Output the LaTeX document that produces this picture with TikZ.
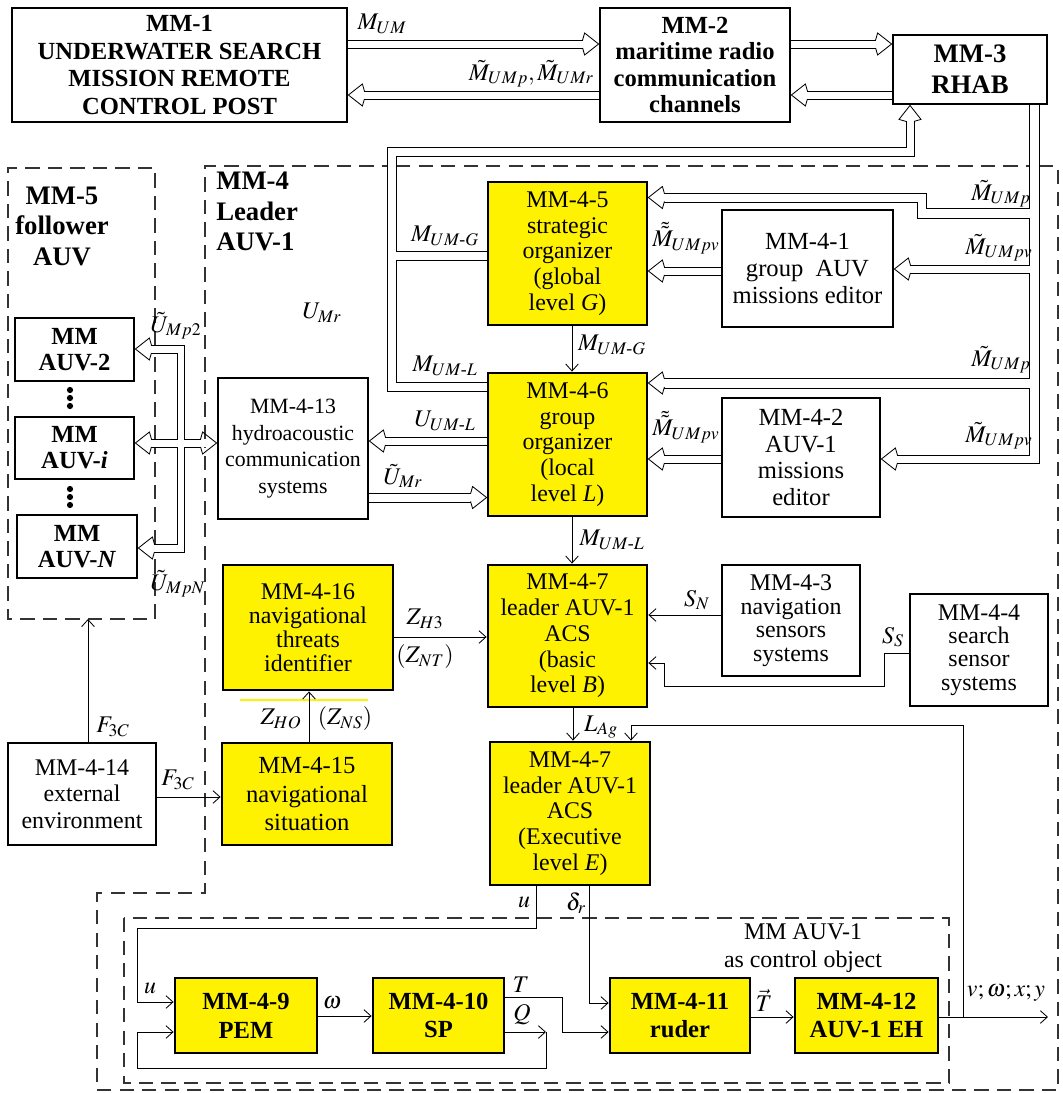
\documentclass[tikz,border=0pt]{standalone}
\usepackage{amsmath}
\usepackage{mathptmx}
\usepackage{fontspec}
\setmainfont{Liberation Serif}
\usetikzlibrary{arrows.meta,backgrounds}
\definecolor{boxyellow}{RGB}{255,242,0}

\tikzset{
  blk/.style={draw, line width=2pt, inner sep=0pt, align=center,
    font=\fontsize{17}{18.3}\selectfont},
  sz/.style 2 args={minimum width=#1*0.025cm, minimum height=#2*0.025cm},
  wbox/.style={blk, fill=white},
  ybox/.style={blk, fill=boxyellow},
  bbox/.style={wbox, font=\fontsize{17.5}{18.6}\selectfont\bfseries},
  bybox/.style={ybox, font=\fontsize{17.5}{20.5}\selectfont\bfseries},
  grp/.style={inner sep=0pt, font=\fontsize{19}{21.7}\selectfont\bfseries},
  lab/.style={inner sep=0pt, font=\fontsize{17}{17}\selectfont},
  ln/.style={line width=0.6pt},
  sarr/.style={line width=0.6pt, -{Straight Barb[length=5pt,width=9pt]}},
  frm/.style={line width=0.8pt, black!80, dash pattern=on 10pt off 6pt},
  dhead/.pic={\draw[ln] (-16,4) -- (-14,11) -- (0,0) -- (-14,-11) -- (-16,-4);},
}

\begin{document}
\begin{tikzpicture}[x=0.025cm, y=-0.025cm]
\useasboundingbox (0,0) rectangle (1063,1093);

% top row
\node[bbox, sz={335}{114}, font=\fontsize{17.5}{19.5}\selectfont\bfseries] (mm1) at (179.5,65) {MM-1\\UNDERWATER SEARCH\\MISSION REMOTE\\CONTROL POST};
\node[bbox, sz={190}{114}] (mm2) at (695,65) {MM-2\\maritime radio\\communication\\channels};
\node[bbox, sz={154}{69}, font=\fontsize{19}{22}\selectfont\bfseries] (mm3) at (970,69.5) {MM-3\\RHAB};

% leader AUV-1
\node[ybox, sz={159}{143}] (mm45) at (567.5,253.5) {MM-4-5\\strategic\\organizer\\(global\\level \textit{G})};
\node[wbox, sz={171}{117}, font=\fontsize{17.5}{19}\selectfont] (mm41) at (807.5,268.5) {MM-4-1\\group\ \ AUV\\missions editor};
\node[ybox, sz={159}{143}] (mm46) at (567.5,444.5) {MM-4-6\\group\\organizer\\(local\\level \textit{L})};
\node[wbox, sz={158}{119}, font=\fontsize{17.5}{19}\selectfont] (mm42) at (801,457.5) {MM-4-2\\AUV-1\\missions\\editor};
\node[wbox, sz={150}{141}, font=\fontsize{15.5}{19}\selectfont] (mm413) at (293,448.5) {MM-4-13\\hydroacoustic\\communication\\systems};
\node[ybox, sz={159}{142}] (mm47b) at (567.5,636) {MM-4-7\\leader AUV-1\\ACS\\(basic\\level \textit{B})};
\node[wbox, sz={138}{111}, font=\fontsize{17}{16.8}\selectfont] (mm43) at (791,620.5) {MM-4-3\\navigation\\sensors\\systems};
\node[wbox, sz={138}{112}, font=\fontsize{17}{16.6}\selectfont] (mm44) at (979,650) {MM-4-4\\search\\sensor\\systems};
\node[ybox, sz={170}{125}, font=\fontsize{17}{17.2}\selectfont] (mm416) at (308,627.5) {MM-4-16\\navigational\\threats\\identifier};
\node[ybox, sz={170}{102}, font=\fontsize{17.5}{20.6}\selectfont] (mm415) at (307,794) {MM-4-15\\navigational\\situation};
\node[wbox, sz={148}{102}, font=\fontsize{17}{19}\selectfont] (mm414) at (82,794) {MM-4-14\\external\\environment};
\node[ybox, sz={160}{143}] (mm47e) at (570,813.5) {MM-4-7\\leader AUV-1\\ACS\\(Executive\\level \textit{E})};

% control object
\node[bybox, sz={142}{75}] (mm49) at (246,1015.5) {MM-4-9\\PEM};
\node[bybox, sz={131}{75}] (mm410) at (438.5,1015.5) {MM-4-10\\SP};
\node[bybox, sz={140}{75}] (mm411) at (680,1015.5) {MM-4-11\\ruder};
\node[bybox, sz={143}{75}] (mm412) at (866.5,1015.5) {MM-4-12\\AUV-1 EH};

% followers
\node[bbox, sz={119}{63}] (auv2) at (74.5,349.5) {MM\\AUV-2};
\node[bbox, sz={119}{62}] (auvi) at (74.5,448) {MM\\AUV-\textit{i}};
\node[bbox, sz={120}{63}] (auvn) at (77,546.5) {MM\\AUV-\textit{N}};

% group titles
\node[grp, align=center] (g5) at (62,226) {MM-5\\follower\\AUV};
\node[grp, align=left, anchor=north west] (g4) at (216,172) {MM-4\\Leader\\AUV-1};
\node[blk, draw=none, font=\fontsize{17}{20}\selectfont] (gco) at (803,948) {MM AUV-1\\as control object};

% labels
\node[lab] (tmum) at (382,24) {$M_{UM}$};
\node[lab, anchor=east] (tmret) at (594,74) {$\tilde M_{UMp}, \tilde M_{UMr}$};
\node[lab] (tmg1) at (445,236) {$M_{UM\text{-}G}$};
\node[lab] (tml1) at (445,366) {$M_{UM\text{-}L}$};
\node[lab] (tuul) at (445,421) {$U_{UM\text{-}L}$};
\node[lab] (tumr) at (322,313) {$U_{Mr}$};
\node[lab] (tumr2) at (403,476) {$\tilde U_{Mr}$};
\node[lab] (tup2) at (176,326) {$\tilde U_{Mp2}$};
\node[lab] (tupn) at (178,584) {$\tilde U_{MpN}$};
\node[lab] (tmp1) at (1001,194) {$\tilde M_{UMp}$};
\node[lab] (tmpv1) at (999,248) {$\tilde M_{UMpv}$};
\node[lab] (tmp2) at (1001,360) {$\tilde M_{UMp}$};
\node[lab] (tmpv2) at (999,436) {$\tilde M_{UMpv}$};
\node[lab] (tmm1) at (686,238) {$\tilde{\tilde M}_{UMpv}$};
\node[lab] (tmm2) at (686,427) {$\tilde{\tilde M}_{UMpv}$};
\node[lab] (tmg2) at (612,345) {$M_{UM\text{-}G}$};
\node[lab] (tml2) at (612,540) {$M_{UM\text{-}L}$};
\node[lab] (tsn) at (697,600) {$S_N$};
\node[lab] (tss) at (893,637) {$S_S$};
\node[lab] (tzh3) at (425,619) {$Z_{H3}$};
\node[lab] (tznt) at (425,657) {$(Z_{NT})$};
\node[lab] (tzho) at (281,719) {$Z_{HO}$};
\node[lab] (tzns) at (345,719) {$(Z_{NS})$};
\node[lab] (tf1) at (113,727) {$F_{3C}$};
\node[lab] (tf2) at (178,780) {$F_{3C}$};
\node[lab] (tlag) at (601,727) {$L_{Ag}$};
\node[lab] (tu1) at (524,902) {$u$};
\node[lab] (tdr) at (576,903) {$\delta_r$};
\node[lab] (tu2) at (150,988) {$u$};
\node[lab] (tom) at (332,1003) {$\omega$};
\node[lab] (tt) at (521,985) {$T$};
\node[lab] (tq) at (522,1015) {$Q$};
\node[lab] (ttv) at (764,1000) {$\vec T$};
\node[lab] (tout) at (1006,993) {$v;\omega;x;y$};

\coordinate (m5b) at (88,619);
\coordinate (vout) at (1048,1017);
\coordinate (fb) at (963,1017);

\begin{scope}[on background layer]
  % frames
  \draw[frm] (155,345) -- (155,168) -- (8,168) -- (8,619) -- (155,619) -- (155,552)
             (155,544) -- (155,447) (155,439) -- (155,353);
  \draw[frm] (205,439) -- (205,166) -- (387,166) (396,166) -- (1029,166)
             (1039,166) -- (1058,166) -- (1058,1090) -- (97,1090) -- (97,893) -- (205,893) -- (205,447);
  \draw[frm] (124,918) rectangle (949,1083);
  \draw[boxyellow, line width=1pt] (240,700) -- (368,700);
\end{scope}

% radio channels
\draw[ln] (mm1.east |- 0,40) -- (583,40) (mm1.east |- 0,48) -- (583,48);
\pic at (mm2.west |- 0,44) {dhead};
\draw[ln] (mm2.west |- 0,91) -- (364,91) (mm2.west |- 0,99) -- (364,99);
\pic[rotate=180] at (mm1.east |- 0,95) {dhead};
\draw[ln] (mm2.east |- 0,40) -- (876,40) (mm2.east |- 0,48) -- (876,48);
\pic at (mm3.west |- 0,44) {dhead};
\draw[ln] (mm3.west |- 0,91) -- (807,91) (mm3.west |- 0,99) -- (807,99);
\pic[rotate=180] at (mm2.east |- 0,95) {dhead};

% organizers up to RHAB
\draw[ln] (mm46.west |- 0,391) -- (387,391) -- (387,147) -- (906,147) -- (906,121);
\draw[ln] (mm46.west |- 0,382) -- (396,382) -- (396,260) -- (mm45.west |- 0,260);
\draw[ln] (mm45.west |- 0,251) -- (396,251) -- (396,156) -- (914,156) -- (914,121);
\pic[rotate=90] at (mm3.south -| 910,0) {dhead};

% RHAB down to the editors
\draw[ln] (mm3.south -| 1039,0) -- (1039,463) -- (897,463);
\draw[ln] (mm3.south -| 1029,0) -- (1029,208) -- (926,208) -- (926,193) -- (664,193);
\draw[ln] (664,202) -- (917,202) -- (917,218) -- (1029,218) -- (1029,265) -- (910,265);
\draw[ln] (910,273) -- (1029,273) -- (1029,378) -- (664,378);
\draw[ln] (664,388) -- (1029,388) -- (1029,455) -- (897,455);
\pic[rotate=180] at (mm45.east |- 0,197.5) {dhead};
\pic[rotate=180] at (mm41.east |- 0,269) {dhead};
\pic[rotate=180] at (mm46.east |- 0,383) {dhead};
\pic[rotate=180] at (mm42.east |- 0,459) {dhead};

% editors and hydroacoustic link
\draw[ln] (mm41.west |- 0,267) -- (664,267) (mm41.west |- 0,275) -- (664,275);
\pic[rotate=180] at (mm45.east |- 0,271) {dhead};
\draw[ln] (mm42.west |- 0,455) -- (664,455) (mm42.west |- 0,463) -- (664,463);
\pic[rotate=180] at (mm46.east |- 0,459) {dhead};
\draw[ln] (mm46.west |- 0,437) -- (385,437) (mm46.west |- 0,445) -- (385,445);
\pic[rotate=180] at (mm413.east |- 0,441) {dhead};
\draw[ln] (mm413.east |- 0,493) -- (471,493) (mm413.east |- 0,502) -- (471,502);
\pic at (mm46.west |- 0,497.5) {dhead};

% hydroacoustic links to followers
\draw[ln] (151,345) -- (184,345) -- (184,439) -- (201,439);
\draw[ln] (151,353) -- (177,353) -- (177,439) -- (151,439);
\draw[ln] (151,447) -- (177,447) -- (177,544) -- (154,544);
\draw[ln] (201,447) -- (184,447) -- (184,552) -- (154,552);
\pic[rotate=180] at (auv2.east |- 0,349) {dhead};
\pic[rotate=180] at (auvi.east |- 0,443) {dhead};
\pic[rotate=180] at (auvn.east |- 0,548) {dhead};
\pic at (mm413.west |- 0,443) {dhead};

% signals
\draw[sarr] (mm45.south -| 572,0) -- (mm46.north -| 572,0);
\draw[sarr] (mm46.south -| 572,0) -- (mm47b.north -| 572,0);
\draw[sarr] (mm47b.south -| 573,0) -- (mm47e.north -| 573,0);
\draw[sarr] (mm43.west |- 0,615) -- (mm47b.east |- 0,615);
\draw[sarr] (mm44.west |- 0,653) -- (884,653) -- (884,686) -- (664,686) -- (664,663) -- (mm47b.east |- 0,663);
\draw[sarr] (mm416.east |- 0,637) -- (mm47b.west |- 0,637);
\draw[sarr] (mm415.north -| 309,0) -- (mm416.south -| 309,0);
\draw[sarr] (mm414.north -| m5b) -- (m5b);
\draw[sarr] (mm414.east |- 0,797) -- (mm415.west |- 0,797);

\draw[sarr] (mm47e.south -| 536,0) -- (536,928) -- (137,928) -- (137,1002) -- (mm49.west |- 0,1002);
\draw[sarr] (mm49.east |- 0,1016) -- (mm410.west |- 0,1016);
\draw[sarr] (mm410.east |- 0,1032) -- (546,1032);
\draw[sarr] (546,1032) -- (546,1068) -- (137,1068) -- (137,1032) -- (mm49.west |- 0,1032);
\draw[sarr] (mm410.east |- 0,997) -- (562,997) -- (562,1032) -- (mm411.west |- 0,1032);
\draw[sarr] (mm47e.south -| 589,0) -- (589,1003) -- (mm411.west |- 0,1003);
\draw[sarr] (mm411.east |- 0,1017) -- (mm412.west |- 0,1017);
\draw[sarr] (mm412.east |- vout) -- (vout);
\draw[sarr] (fb) -- (963,725) -- (631,725) -- (mm47e.north -| 631,0);

% dots between followers
\foreach \y in {390,398,406,489,497,505}
  \fill (70,\y) circle (2.2pt);
\end{tikzpicture}
\end{document}
